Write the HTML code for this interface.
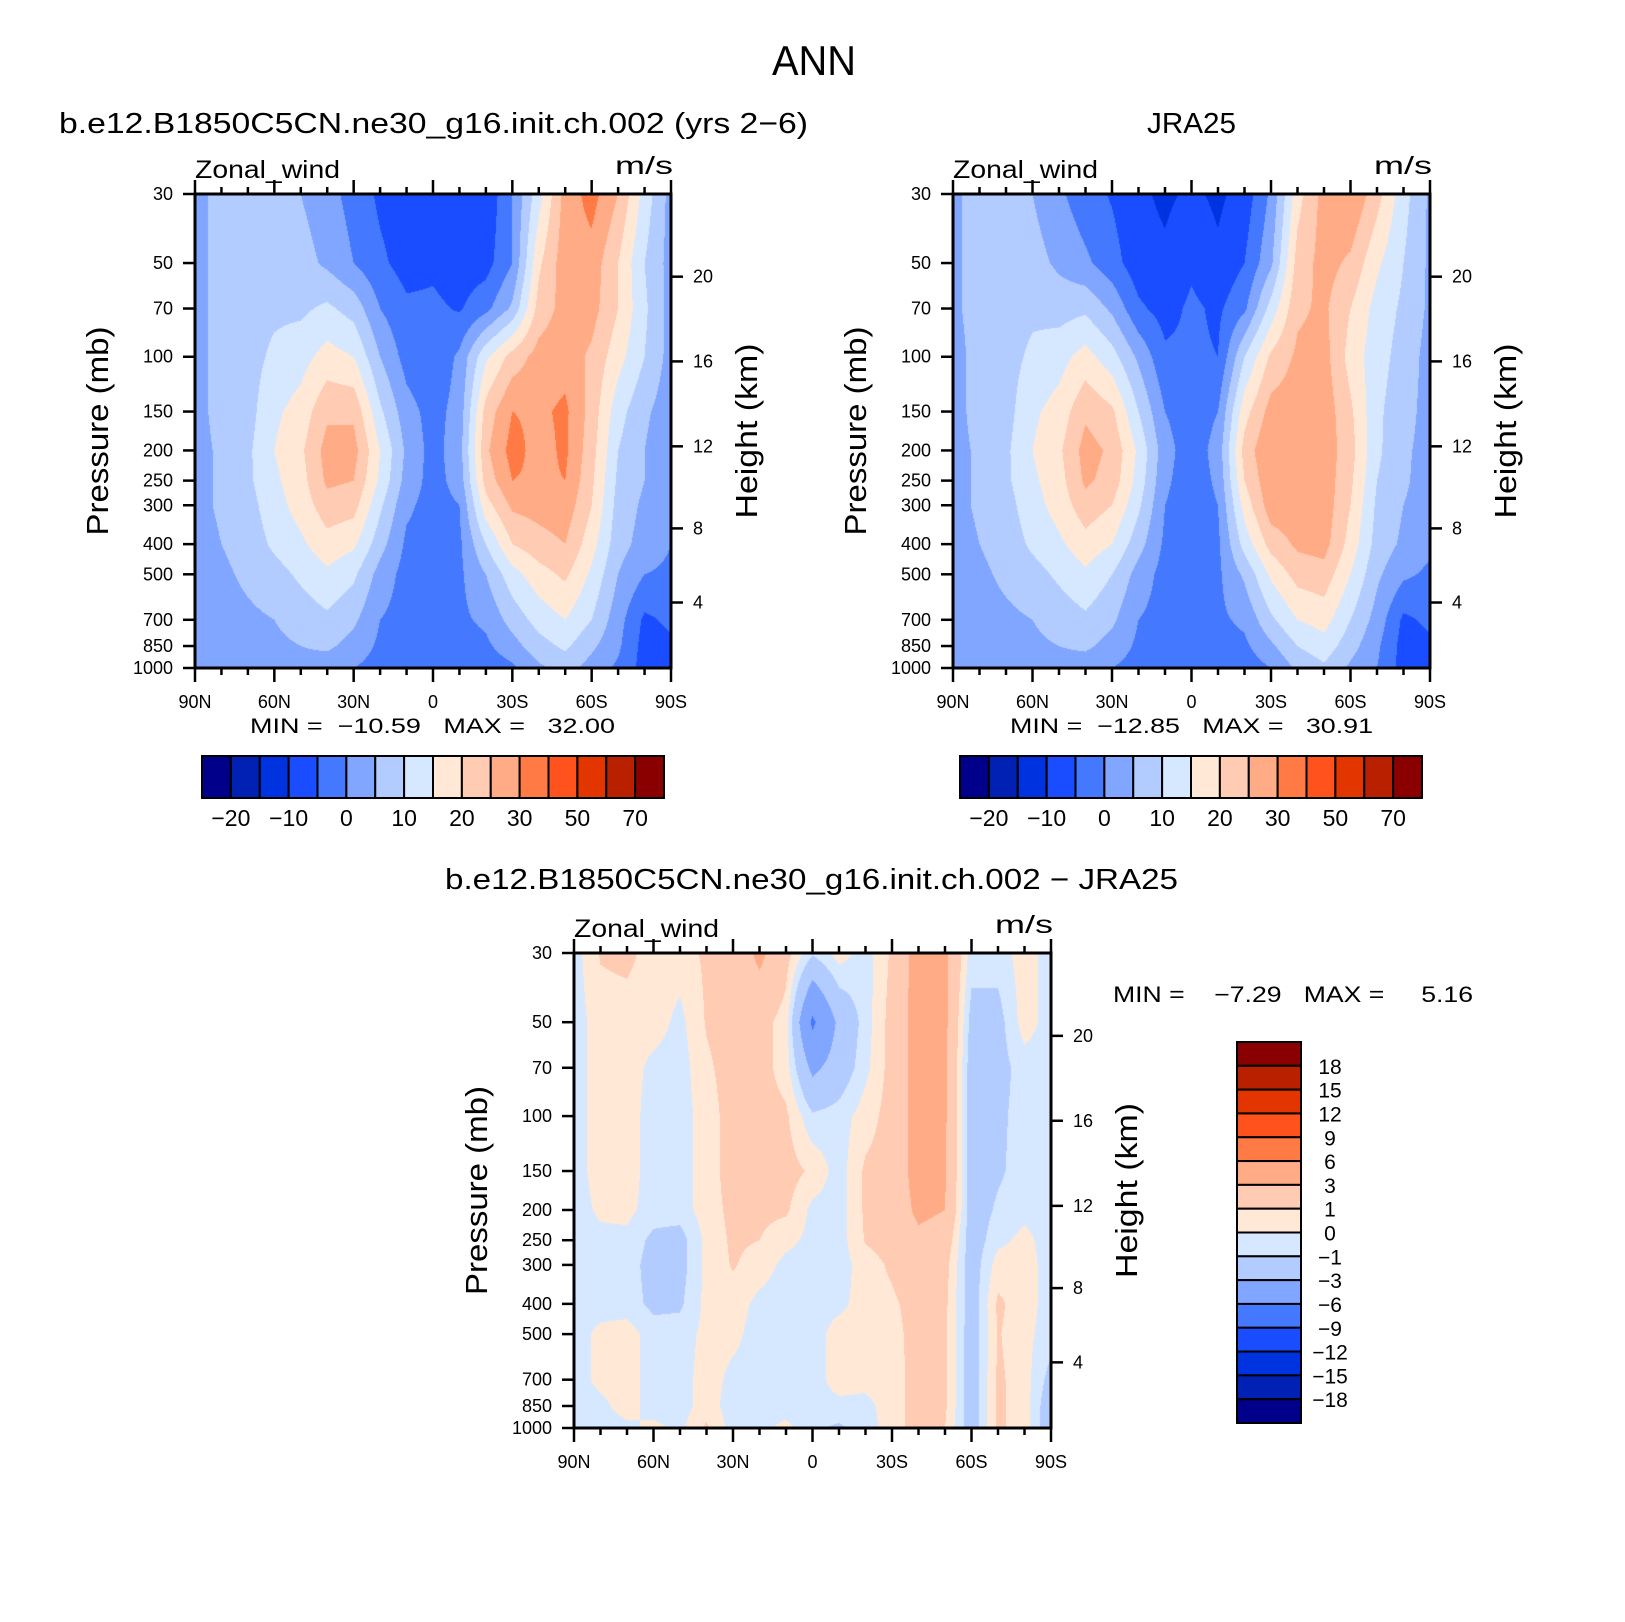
<!DOCTYPE html>
<html><head><meta charset="utf-8">
<style>
html,body{margin:0;padding:0;background:#fff;}
#wrap{position:relative;width:1625px;height:1622px;overflow:hidden;background:#fff;}
canvas{position:absolute;}
svg{position:absolute;left:0;top:0;}
text{font-family:"Liberation Sans",sans-serif;fill:#000;white-space:pre;}
</style></head>
<body>
<div id="wrap">
<canvas id="c1" style="left:195px;top:194px" width="476" height="474"></canvas>
<canvas id="c2" style="left:953px;top:194px" width="477" height="474"></canvas>
<canvas id="c3" style="left:574px;top:953px" width="477" height="475"></canvas>
<svg id="svg" width="1625" height="1622">
<text x="814" y="75" font-size="42" text-anchor="middle" textLength="84" lengthAdjust="spacingAndGlyphs">ANN</text>
<text x="59" y="133" font-size="29" textLength="749" lengthAdjust="spacingAndGlyphs">b.e12.B1850C5CN.ne30_g16.init.ch.002 (yrs 2−6)</text>
<text x="1147" y="133" font-size="29" textLength="89" lengthAdjust="spacingAndGlyphs">JRA25</text>
<text x="445" y="889" font-size="29" textLength="733" lengthAdjust="spacingAndGlyphs">b.e12.B1850C5CN.ne30_g16.init.ch.002 − JRA25</text>
<text x="250" y="733" font-size="21" textLength="365" lengthAdjust="spacingAndGlyphs">MIN =  −10.59   MAX =   32.00</text>
<text x="1010" y="733" font-size="21" textLength="363" lengthAdjust="spacingAndGlyphs">MIN =  −12.85   MAX =   30.91</text>
<text x="1113" y="1002" font-size="22" textLength="360" lengthAdjust="spacingAndGlyphs">MIN =    −7.29   MAX =     5.16</text>
</svg>
</div>
<script>
// ---------- data ----------
const pressureLevels = [30,50,70,100,150,200,250,300,400,500,700,850,1000];
const latitudes = [90,80,70,60,50,40,30,20,10,0,-10,-20,-30,-40,-50,-60,-70,-80,-90];
const pressureTicks = [30,50,70,100,150,200,250,300,400,500,700,850,1000];
const heightTickLabels = ["4","8","12","16","20"];
const heightTickPressures = [616,356,194,103.5,55.3];
const latTickValues = [90,60,30,0,-30,-60,-90];
const latTickLabels = ["90N","60N","30N","0","30S","60S","90S"];
const fullLevels = [-20,-15,-10,-5,0,5,10,15,20,25,30,40,50,60,70];
const fullBarLabels = ["−20","−10","0","10","20","30","50","70"];
const diffLevels = [-18,-15,-12,-9,-6,-3,-1,0,1,3,6,9,12,15,18];
const diffBarLabels = ["18","15","12","9","6","3","1","0","−1","−3","−6","−9","−12","−15","−18"];
const palette = ["#00008a","#0021b3","#0033e0","#1a4dff","#4478ff","#80a6ff","#b3ccff","#d6e8ff","#ffe9d6","#ffcbb3","#ffab85","#ff7a45","#ff521c","#e33500","#b82000","#8a0000"];

const modelU = [
 [3,3,3,3,3,3,3,3,2,2,2,1,1],
 [7,7,7,7,7,6,6,6,5,4,3,2,1],
 [9,9,8,8,8,9,9,8,7,6,4,3,2],
 [8,8,9,11,14,15,14,13,11,8,5,4,3],
 [5,7,9,13,17,19,18,17,14,11,7,5,3],
 [2,4,11,17,24,27,26,23,18,14,9,6,2],
 [-2,0,8,15,24,27,25,22,16,11,6,3,0],
 [-6,-4,0,5,11,15,14,11,7,3,0,-1,-2],
 [-8,-7,-4,-2,2,4,3,1,-1,-2,-2,-2,-3],
 [-9,-6,-4,-4,-2,-2,-2,-2,-2,-1,-1,-1,-2],
 [-9,-8,-5.5,1,2,3,2,0,-1,-1,-1,-2,-4],
 [-9,-7,-1.5,14,22,24,22,18,10,5,1,-1,-3],
 [0,0,6,22,30,32,30,26,20,13,7,3,-1],
 [13,19,22,27,29,28,29,27,23,18,12,8,4],
 [27,28,27,28,31,31,30,28,25,21,15,11,7],
 [32,28,27,24,23,22,21,20,17,14,10,6,3],
 [25,20,20,17,12,10,9,8,7,5,2,1,-1],
 [13,10,11,10,6,5,5,4,3,0,-6,-7,-7],
 [3,3,3,3,2,1,1,1,0,-1,-4,-6,-6]
];
const jraU = [
 [4,4,4,3,3,3,3,3,2,2,2,1,1],
 [7,7,7,7,7,6,6,6,5,4,3,2,1],
 [7,8,8,8,8,9,9,8,7,6,4,3,2],
 [5,7,9,11,14,15,14,13,11,8,5,4,3],
 [1,4,8,13,17,19,18,17,14,11,7,5,3],
 [-3,1,9,17,24,27,26,23,18,14,9,6,2],
 [-5.5,-3,4,12,21,24,23,20,15,10,6,3,0],
 [-9,-8,-4,4,10,14,13,11,7,3,0,-1,-2],
 [-11,-9,-7,-4,0,2,1,0,-1,-2,-2,-2,-2],
 [-9,-6,-4,-4,-3,-3,-3,-3,-3,-2,-2,-2,-2],
 [-11,-9,-6,-5,0,2,1,0,-1,-1,-1,-2,-3],
 [-8,-5,-1,10,18,22,20,17,12,6,1,-1,-3],
 [1,4,12,21,27,30,29,28,22,16,9,4,0],
 [18,22,24,26,28,29,29,28,26,22,15,10,6],
 [27,27,26,27,28,28,28,28,27,23,17,13,9],
 [30,24,20,18,21,22,21,20,18,15,10,7,4],
 [22,16,13,12,11,11,10,9,8,6,3,1,0],
 [12,10,9,8,7,6,6,5,4,1,-6,-7,-7],
 [4,4,4,3,3,3,2,2,1,-1,-4,-6,-6]
];
const diffU = [
 [-0.5,-0.5,-0.5,-0.5,-0.5,-0.5,-0.5,-0.5,-0.5,-0.5,-0.5,-0.5,-0.5],
 [1.1,0.5,0.5,0.5,0.5,0.2,-0.3,-0.5,-0.5,0.3,0.3,-0.3,-0.5],
 [1.3,0.5,0.5,0.5,0.5,0.3,-0.3,-0.5,-0.5,0.5,0.5,0.5,-0.3],
 [0.5,0.5,-0.3,-0.5,-0.5,-0.5,-1.3,-1.5,-1.3,-0.5,-0.5,-0.5,0.3],
 [0.5,-0.3,-0.5,-0.5,-0.5,-0.5,-1.5,-1.5,-1.2,-0.5,-0.5,-0.5,-0.3],
 [1.2,1.1,0.8,0.5,0.5,0.5,0.3,0.3,0.3,0.3,0.5,0.5,1.2],
 [1.5,1.5,1.5,1.5,1.5,1.3,1.2,1.1,0.5,0.3,-0.3,-0.5,-0.5],
 [3.5,1.5,1.5,1.5,1.2,1.3,1.0,0.5,-0.3,-0.5,-0.5,-0.5,-0.3],
 [1.5,0.5,0.5,1.2,1.5,1.2,0.3,-0.3,-0.5,-0.5,-0.5,-0.5,0.3],
 [-0.8,-6.5,-3.5,-0.8,0.8,-0.3,-0.3,-0.5,-0.5,-0.5,-0.5,-0.5,-0.8],
 [0.5,-2.5,-2,-0.5,-0.5,-0.5,-0.5,-0.5,-0.3,0.5,0.5,-0.3,-1.2],
 [-0.5,-0.5,-0.3,0.5,1.2,1.2,1.1,0.5,0.5,0.5,0.3,-0.3,-0.5],
 [1.2,1.5,1.5,1.5,1.5,1.5,1.5,1.2,0.8,0.6,0.5,0.5,0.5],
 [4,4,4,4,4,3.5,2.5,2,1.5,1.5,1.5,1.5,1.5],
 [3.5,3.5,3.3,3.3,3.2,3,2,1.5,1.3,1.2,1.2,1.2,1],
 [-0.5,-1.5,-1.8,-1.8,-1.8,-1.8,-1.8,-1.8,-1.8,-1.8,-1.8,-1.8,-1.8],
 [-0.5,-1.5,-1.5,-1.3,-1.2,-0.8,-0.3,0.5,1.2,1.1,1.2,1.2,1.2],
 [0.5,0.5,-0.5,-0.5,-0.5,-0.3,0.3,0.5,0.5,0.3,0.5,0.5,0.5],
 [-0.5,-0.5,-0.5,-0.5,-0.5,-0.5,-0.5,-0.5,-0.5,-0.5,-1.5,-2,-2]
];

const NS = "http://www.w3.org/2000/svg";
const svg = document.getElementById('svg');
const LP0 = Math.log(30), LP1 = Math.log(1000);
function yOfP(plot, p){ return plot.y + (Math.log(p)-LP0)/(LP1-LP0)*plot.h; }
function xOfLat(plot, lat){ return plot.x + (90-lat)/180*plot.w; }
function levelIndex(v, levels){ let k=0; while(k<levels.length && v>=levels[k]) k++; return k; }
function hexToRgb(h){ return [parseInt(h.slice(1,3),16),parseInt(h.slice(3,5),16),parseInt(h.slice(5,7),16)]; }
const rgbPalette = palette.map(hexToRgb);
const logP = pressureLevels.map(p=>Math.log(p));

function drawField(canvasId, field, levels){
  const cv = document.getElementById(canvasId);
  const ctx = cv.getContext('2d');
  const w = cv.width, h = cv.height;
  const img = ctx.createImageData(w,h);
  const nLat = latitudes.length;
  for(let y=0;y<h;y++){
    const lp = LP0 + (y+0.5)/h*(LP1-LP0);
    let i=0; while(i<logP.length-2 && lp>logP[i+1]) i++;
    const t = Math.min(1,Math.max(0,(lp-logP[i])/(logP[i+1]-logP[i])));
    for(let x=0;x<w;x++){
      const lat = 90 - (x+0.5)/w*180;
      const f = (90-lat)/180*(nLat-1);
      let j=Math.floor(f); if(j>nLat-2) j=nLat-2;
      const u=f-j;
      const v = (1-u)*((1-t)*field[j][i]+t*field[j][i+1]) + u*((1-t)*field[j+1][i]+t*field[j+1][i+1]);
      const c = rgbPalette[levelIndex(v,levels)];
      const o=(y*w+x)*4;
      img.data[o]=c[0];img.data[o+1]=c[1];img.data[o+2]=c[2];img.data[o+3]=255;
    }
  }
  ctx.putImageData(img,0,0);
}

function line(x1,y1,x2,y2,sw,name){
  const l=document.createElementNS(NS,'line');
  l.setAttribute('x1',x1);l.setAttribute('y1',y1);l.setAttribute('x2',x2);l.setAttribute('y2',y2);
  l.setAttribute('stroke','#000');l.setAttribute('stroke-width',sw);
  
  
  svg.appendChild(l); return l;
}
function text(x,y,s,size,anchor,name){
  const t=document.createElementNS(NS,'text');
  t.setAttribute('x',x);t.setAttribute('y',y);t.setAttribute('font-size',size);
  if(anchor) t.setAttribute('text-anchor',anchor);
  t.textContent=s;
  
  
  svg.appendChild(t); return t;
}

function drawAxes(plot){
  const {x,y,w,h}=plot;
  const r=document.createElementNS(NS,'rect');
  r.setAttribute('x',x);r.setAttribute('y',y);r.setAttribute('width',w);r.setAttribute('height',h);
  r.setAttribute('fill','none');r.setAttribute('stroke','#000');r.setAttribute('stroke-width',3);
  
  
  svg.appendChild(r);
  for(let lat=90;lat>=-90;lat-=10){
    const xx=xOfLat(plot,lat);
    const major = (lat%30===0);
    const len = major?14:7;
    line(xx,y+h,xx,y+h+len,2.5,'x-tick');
    line(xx,y,xx,y-len,2.5,'top-x-tick');
  }
  latTickValues.forEach((lat,k)=>{
    text(xOfLat(plot,lat), y+h+40, latTickLabels[k], 18, 'middle', 'x-tick-label');
  });
  pressureTicks.forEach(p=>{
    const yy=yOfP(plot,p);
    line(x-12,yy,x,yy,2.5,'y-tick');
    text(x-22,yy+6,String(p),18,'end','y-tick-label');
  });
  heightTickPressures.forEach((p,k)=>{
    const yy=yOfP(plot,p);
    line(x+w,yy,x+w+12,yy,2.5,'height-tick');
    text(x+w+22,yy+6,heightTickLabels[k],18,'start','height-tick-label');
  });
  const cy = y+h/2;
  const pt=text(x-98,cy+11,'Pressure (mb)',31,'middle','y-axis-title');
  pt.setAttribute('transform','rotate(-90 '+(x-98)+' '+cy+')');
  pt.setAttribute('textLength','209');pt.setAttribute('lengthAdjust','spacingAndGlyphs');
  const ht=text(x+w+75,cy+11,'Height (km)',31,'middle','right-axis-title');
  ht.setAttribute('transform','rotate(-90 '+(x+w+75)+' '+cy+')');
  ht.setAttribute('textLength','175');ht.setAttribute('lengthAdjust','spacingAndGlyphs');
  const zt=text(x,y-16,'Zonal_wind',25,'start','variable-label');
  zt.setAttribute('textLength','145');zt.setAttribute('lengthAdjust','spacingAndGlyphs');
  const mt=text(x+w+2,y-20,'m/s',25,'end','units-label');
  mt.setAttribute('textLength','58');mt.setAttribute('lengthAdjust','spacingAndGlyphs');
}

function drawHBar(x0,y0,w,h,levels,labels){
  const n=palette.length, bw=w/n;
  for(let k=0;k<n;k++){
    const r=document.createElementNS(NS,'rect');
    r.setAttribute('x',x0+k*bw);r.setAttribute('y',y0);r.setAttribute('width',bw);r.setAttribute('height',h);
    r.setAttribute('fill',palette[k]);r.setAttribute('stroke','#000');r.setAttribute('stroke-width',2);
    
    
    svg.appendChild(r);
  }
  labels.forEach((s,i)=>{
    const k=1+2*i;
    text(x0+k*bw, y0+h+28, s, 23, 'middle', 'colorbar-label');
  });
}
function drawVBar(x0,y0,w,h,levels,labels){
  const n=palette.length, bh=h/n;
  for(let k=0;k<n;k++){
    const r=document.createElementNS(NS,'rect');
    r.setAttribute('x',x0);r.setAttribute('y',y0+k*bh);r.setAttribute('width',w);r.setAttribute('height',bh);
    r.setAttribute('fill',palette[n-1-k]);r.setAttribute('stroke','#000');r.setAttribute('stroke-width',2);
    
    
    svg.appendChild(r);
  }
  labels.forEach((s,i)=>{
    text(x0+93, y0+(i+1)*bh+8, s, 21, 'middle', 'colorbar-label');
  });
}

const P1={x:195,y:194,w:476,h:474}, P2={x:953,y:194,w:477,h:474}, P3={x:574,y:953,w:477,h:475};
drawField('c1',modelU,fullLevels);
drawField('c2',jraU,fullLevels);
drawField('c3',diffU,diffLevels);
drawAxes(P1); drawAxes(P2); drawAxes(P3);
drawHBar(202,756,462,42,fullLevels,fullBarLabels);
drawHBar(960,756,462,42,fullLevels,fullBarLabels);
drawVBar(1237,1042,64,381,diffLevels,diffBarLabels);
</script>
</body></html>
